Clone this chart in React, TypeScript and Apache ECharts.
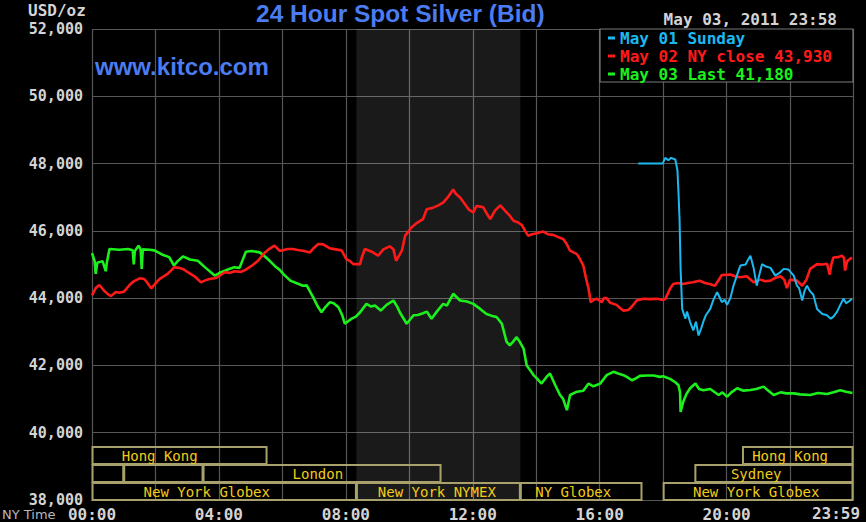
import React, { useEffect, useRef } from 'react';
import * as echarts from 'echarts';

// Minutes after midnight (NY time), price in USD/oz
const may01Sunday: [number, number][] = [
  [1033, 48.0], [1079, 48.0], [1084, 48.17], [1090, 48.1], [1095, 48.17], [1103, 48.12], [1107, 47.8],
  [1109, 47.14], [1111, 46.35], [1113, 44.87], [1116, 43.68], [1122, 43.39], [1125, 43.6], [1131, 43.29],
  [1137, 43.04], [1142, 43.3], [1147, 42.89], [1152, 43.1], [1156, 43.3], [1161, 43.5], [1169, 43.68],
  [1175, 43.95], [1182, 44.18], [1186, 44.05], [1191, 43.88], [1196, 43.95], [1201, 43.8], [1207, 44.0],
  [1213, 44.37], [1220, 44.7], [1226, 44.97], [1236, 45.0], [1239, 45.1], [1245, 45.26], [1251, 44.9],
  [1257, 44.37], [1262, 44.7], [1267, 45.01], [1273, 44.95], [1283, 44.9], [1292, 44.67], [1300, 44.75],
  [1308, 44.87], [1317, 44.85], [1327, 44.67], [1333, 44.37], [1337, 44.3], [1343, 43.93], [1347, 44.2],
  [1352, 44.37], [1358, 44.2], [1364, 44.1], [1371, 43.68], [1381, 43.53], [1389, 43.5], [1397, 43.39],
  [1402, 43.45], [1409, 43.6], [1415, 43.8], [1421, 43.98], [1426, 43.85], [1431, 43.9], [1437, 43.98],
];

const may02Close: [number, number][] = [
  [0, 44.08], [7, 44.3], [14, 44.39], [23, 44.22], [30, 44.12], [36, 44.06], [45, 44.18], [52, 44.16],
  [61, 44.2], [71, 44.39], [79, 44.5], [90, 44.59], [99, 44.57], [105, 44.45], [112, 44.29], [119, 44.42],
  [128, 44.57], [136, 44.65], [143, 44.72], [156, 44.92], [165, 44.9], [174, 44.85], [181, 44.77],
  [194, 44.65], [206, 44.47], [213, 44.52], [222, 44.57], [235, 44.6], [251, 44.77], [261, 44.75],
  [269, 44.8], [282, 44.78], [291, 44.85], [301, 44.95], [314, 45.11], [326, 45.34], [334, 45.45],
  [345, 45.56], [355, 45.41], [361, 45.42], [370, 45.46], [380, 45.46], [389, 45.43], [399, 45.41],
  [412, 45.36], [420, 45.5], [428, 45.61], [437, 45.6], [450, 45.48], [461, 45.45], [472, 45.42],
  [481, 45.16], [488, 45.1], [494, 45.01], [507, 45.01], [510, 45.2], [516, 45.46], [529, 45.38],
  [541, 45.26], [551, 45.45], [563, 45.54], [570, 45.45], [575, 45.11], [586, 45.41], [592, 45.85],
  [604, 46.1], [614, 46.23], [626, 46.35], [633, 46.64], [645, 46.69], [654, 46.75], [664, 46.84],
  [673, 47.0], [683, 47.23], [688, 47.1], [696, 46.99], [705, 46.8], [712, 46.64], [721, 46.55],
  [727, 46.74], [734, 46.72], [740, 46.7], [747, 46.5], [753, 46.35], [762, 46.6], [772, 46.76],
  [784, 46.55], [790, 46.45], [797, 46.3], [806, 46.25], [813, 46.17], [819, 46.0], [825, 45.85],
  [832, 45.9], [841, 45.93], [853, 45.98], [862, 45.9], [872, 45.88], [881, 45.82], [891, 45.76],
  [898, 45.6], [904, 45.41], [917, 45.31], [923, 45.15], [929, 44.97], [934, 44.6], [939, 44.28],
  [943, 43.88], [949, 43.95], [955, 43.98], [964, 43.88], [968, 44.0], [973, 44.0], [980, 43.86],
  [992, 43.8], [999, 43.7], [1005, 43.63], [1014, 43.65], [1021, 43.75], [1030, 43.93], [1043, 43.98],
  [1055, 43.97], [1068, 43.98], [1078, 43.95], [1084, 43.97], [1093, 44.28], [1099, 44.42], [1108, 44.45],
  [1118, 44.42], [1127, 44.45], [1136, 44.47], [1149, 44.52], [1159, 44.45], [1168, 44.42], [1178, 44.37],
  [1191, 44.69], [1207, 44.7], [1216, 44.65], [1226, 44.62], [1238, 44.65], [1251, 44.47], [1264, 44.55],
  [1273, 44.5], [1283, 44.52], [1292, 44.6], [1302, 44.65], [1309, 44.55], [1314, 44.3], [1320, 44.55],
  [1333, 44.52], [1343, 44.37], [1351, 44.55], [1358, 44.87], [1371, 45.01], [1381, 45.0], [1390, 45.02],
  [1395, 44.7], [1398, 45.0], [1402, 45.21], [1411, 45.22], [1418, 45.26], [1422, 45.2], [1424, 44.82],
  [1428, 45.1], [1437, 45.21],
];

const may03Last: [number, number][] = [
  [0, 45.34], [5, 45.1], [7, 44.72], [10, 45.05], [20, 45.1], [26, 44.8], [28, 45.05], [33, 45.46],
  [52, 45.44], [68, 45.46], [77, 45.42], [79, 45.0], [81, 45.4], [88, 45.56], [92, 45.45], [94, 44.87],
  [96, 45.45], [109, 45.44], [118, 45.42], [132, 45.3], [146, 45.22], [155, 44.97], [162, 45.1],
  [172, 45.24], [185, 45.15], [200, 45.11], [215, 44.9], [232, 44.67], [244, 44.77], [257, 44.85],
  [269, 44.92], [279, 44.9], [291, 45.38], [302, 45.4], [317, 45.36], [326, 45.25], [336, 45.11],
  [346, 44.95], [355, 44.84], [363, 44.7], [375, 44.52], [386, 44.45], [399, 44.37], [406, 44.38],
  [418, 44.03], [427, 43.75], [434, 43.58], [442, 43.75], [450, 43.88], [457, 43.85], [466, 43.73],
  [473, 43.5], [478, 43.24], [491, 43.39], [499, 43.45], [507, 43.58], [519, 43.83], [528, 43.75],
  [535, 43.78], [546, 43.63], [557, 43.8], [570, 43.93], [577, 43.75], [582, 43.58], [595, 43.24],
  [608, 43.49], [616, 43.5], [626, 43.55], [633, 43.6], [642, 43.39], [652, 43.6], [664, 43.83],
  [671, 43.78], [683, 44.13], [696, 43.93], [709, 43.9], [721, 43.83], [734, 43.68], [746, 43.53],
  [755, 43.48], [765, 43.44], [775, 43.24], [784, 42.7], [790, 42.6], [796, 42.7], [803, 42.84],
  [809, 42.7], [816, 42.5], [822, 42.0], [829, 41.85], [835, 41.71], [842, 41.6], [850, 41.46],
  [859, 41.65], [866, 41.76], [876, 41.41], [885, 41.12], [891, 41.0], [898, 40.67], [904, 41.12],
  [917, 41.22], [929, 41.25], [939, 41.46], [948, 41.38], [961, 41.46], [973, 41.71], [986, 41.81],
  [995, 41.76], [1005, 41.71], [1012, 41.65], [1021, 41.56], [1029, 41.62], [1036, 41.69], [1050, 41.7],
  [1062, 41.7], [1074, 41.66], [1080, 41.68], [1093, 41.6], [1103, 41.5], [1109, 41.41], [1112, 41.2],
  [1113, 40.62], [1118, 40.92], [1124, 41.15], [1131, 41.32], [1141, 41.46], [1148, 41.3], [1156, 41.26],
  [1169, 41.3], [1185, 41.12], [1192, 41.2], [1201, 41.07], [1209, 41.2], [1220, 41.32], [1232, 41.25],
  [1245, 41.27], [1256, 41.3], [1270, 41.37], [1279, 41.25], [1289, 41.12], [1302, 41.2], [1313, 41.17],
  [1327, 41.17], [1339, 41.14], [1358, 41.12], [1373, 41.18], [1390, 41.15], [1402, 41.2], [1415, 41.26],
  [1426, 41.22], [1438, 41.18],
];

const seriesNames = ['May 01 Sunday', 'May 02 NY close 43,930', 'May 03 Last 41,180'];
const seriesColors = ['#1cb8f0', '#ff1a1a', '#1cf01c'];

// NYMEX pit session (shaded), minutes
const nymexSpan = [500, 810];

// Trading session bars
const sessionNames = ['Hong Kong', '', '', 'London', 'New York Globex', 'New York NYMEX', 'NY Globex', 'New York Globex', 'Sydney', 'Hong Kong'];
const sessionRow = [0, 1, 1, 1, 2, 2, 2, 2, 1, 0];
const sessionStart = [0, 0, 60, 210, 0, 500, 810, 1080, 1140, 1230];
const sessionEnd = [331, 60, 210, 660, 500, 810, 1040, 1439, 1439, 1439];
const sessionLabelAt = [128, 0, 0, 427, 217, 652, 910, 1256, 1256, 1320];

const MONO = '"DejaVu Sans Mono", monospace';
const BLUE = '#4b7cf0';
const GRAY_TEXT = '#d4d4d4';

function hhmm(m: number): string {
  const h = Math.floor(m / 60);
  const mm = m % 60;
  return String(h).padStart(2, '0') + ':' + String(mm).padStart(2, '0');
}

export default function App() {
  const ref = useRef<HTMLDivElement>(null);
  useEffect(() => {
    if (!ref.current) return;
    const chart = echarts.init(ref.current, null, { renderer: 'svg' });
    const lines = [may01Sunday, may02Close, may03Last];
    const lineSeries = [2, 1, 0].map((i) => ({
      type: 'line',
      name: seriesNames[i],
      data: lines[i],
      showSymbol: false,
      symbol: 'none',
      silent: true,
      z: 4,
      lineStyle: { color: seriesColors[i], width: i === 0 ? 2 : 2.6 },
      itemStyle: { color: seriesColors[i] },
      markArea: i === 2 ? {
        silent: true,
        itemStyle: { color: 'rgba(255,255,255,0.1)' },
        data: [[{ xAxis: nymexSpan[0] }, { xAxis: nymexSpan[1] }]],
      } : undefined,
    }));

    const option: any = {
      backgroundColor: '#000',
      animation: false,
      title: {
        text: '24 Hour Spot Silver (Bid)',
        left: 256,
        top: 1,
        padding: 0,
        textStyle: { color: BLUE, fontFamily: '"Liberation Sans", Arial, sans-serif', fontWeight: 'bold', fontSize: 24.5 },
      },
      legend: {
        orient: 'vertical',
        left: 608,
        top: 30,
        padding: 0,
        itemGap: 2,
        itemWidth: 7,
        itemHeight: 3,
        icon: 'rect',
        selectedMode: false,
        z: 6,
        data: seriesNames.map((n, i) => ({ name: n, textStyle: { color: seriesColors[i] } })),
        textStyle: { fontFamily: MONO, fontWeight: 'bold', fontSize: 16, lineHeight: 15 },
      },
      grid: { left: 92, top: 29, width: 761, height: 473, containLabel: false },
      xAxis: {
        type: 'value',
        min: 0,
        max: 1439,
        interval: 120,
        axisLine: { show: false },
        axisTick: { show: false },
        splitLine: { show: true, lineStyle: { color: '#575757', width: 1.2 } },
        axisLabel: {
          color: GRAY_TEXT,
          fontFamily: MONO,
          fontWeight: 'bold',
          fontSize: 16,
          margin: 6,
          formatter: (v: number) => (v % 240 === 0 && v < 1439 ? hhmm(v) : ''),
        },
      },
      yAxis: {
        type: 'value',
        min: 38,
        max: 52,
        interval: 2,
        axisLine: { show: false },
        axisTick: { show: false },
        splitLine: { show: true, lineStyle: { color: '#575757', width: 1.2 } },
        axisLabel: {
          color: GRAY_TEXT,
          fontFamily: MONO,
          fontWeight: 'bold',
          fontSize: 15,
          margin: 9,
          formatter: (v: number) => v.toFixed(3).replace('.', ','),
        },
      },
      series: [
        ...lineSeries,
        {
          type: 'custom',
          name: 'sessions',
          silent: true,
          z: 3,
          encode: { x: [0, 1] },
          data: sessionStart.map((s, i) => [s, sessionEnd[i]]),
          renderItem: (params: any, api: any) => {
            const i = params.dataIndex;
            const base = api.coord([0, 38]);
            const p0 = api.coord([sessionStart[i], 38]);
            const p1 = api.coord([sessionEnd[i], 38]);
            const top = base[1] - 53 + sessionRow[i] * 18;
            const children: any[] = [
              {
                type: 'rect',
                shape: { x: p0[0] + 0.5, y: top, width: p1[0] - p0[0] - 1, height: 17 },
                style: { fill: 'none', stroke: '#a9a16c', lineWidth: 2 },
              },
            ];
            if (sessionNames[i]) {
              children.push({
                type: 'text',
                x: api.coord([sessionLabelAt[i], 38])[0],
                y: top + 9,
                style: {
                  text: sessionNames[i],
                  fill: '#f2cc18',
                  font: '14px "DejaVu Sans Mono", monospace',
                  align: 'center',
                  verticalAlign: 'middle',
                },
              });
            }
            return { type: 'group', children };
          },
        },
      ],
      graphic: [
        {
          type: 'rect',
          z: 5,
          shape: { x: 600, y: 29, width: 253, height: 53 },
          style: { fill: '#000', stroke: '#7a7a7a', lineWidth: 1.2 },
        },
        {
          type: 'text',
          x: 28,
          y: 10,
          style: { text: 'USD/oz', fill: GRAY_TEXT, font: `bold 16px ${MONO}`, verticalAlign: 'middle' },
        },
        {
          type: 'text',
          x: 95,
          y: 66,
          style: { text: 'www.kitco.com', fill: BLUE, font: 'bold 24px "Liberation Sans", Arial, sans-serif', verticalAlign: 'middle' },
        },
        {
          type: 'text',
          x: 837,
          y: 19,
          style: { text: 'May 03, 2011 23:58', fill: GRAY_TEXT, font: `bold 16px ${MONO}`, align: 'right', verticalAlign: 'middle' },
        },
        {
          type: 'text',
          x: 2,
          y: 514,
          style: { text: 'NY Time', fill: '#b8b8b8', font: '13px "DejaVu Sans", sans-serif', verticalAlign: 'middle' },
        },
        {
          type: 'text',
          x: 836,
          y: 513,
          style: { text: '23:59', fill: GRAY_TEXT, font: `bold 16px ${MONO}`, align: 'center', verticalAlign: 'middle' },
        },
      ],
    };
    chart.setOption(option);
    return () => chart.dispose();
  }, []);
  return (
    <div
      ref={ref}
      style={{ position: 'absolute', left: 0, top: 0, width: 866, height: 522, background: '#000' }}
    />
  );
}
